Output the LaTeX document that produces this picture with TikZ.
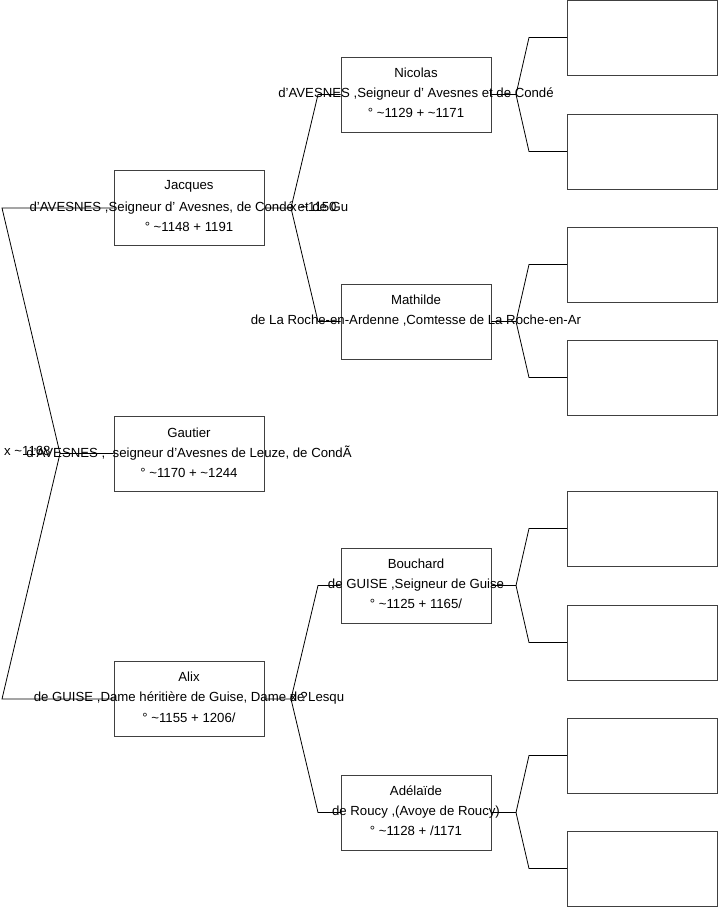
\documentclass[tikz,border=0pt]{standalone}
\usepackage{fontspec}
\setmainfont{Liberation Sans}
\newcommand{\tl}{\textasciitilde}
\begin{document}
\begin{tikzpicture}[x=1pt,y=-1pt]
\tikzset{
  pbox/.style={draw=black!75, line width=0.8pt, minimum width=150pt, minimum height=75pt, inner sep=0pt, fill=white},
  txt/.style={inner sep=0pt, font=\fontsize{13.2}{15}\selectfont, anchor=center},
  ltxt/.style={inner sep=0pt, font=\fontsize{13.2}{15}\selectfont, anchor=west},
  conn/.style={draw=black, line width=0.8pt}
}
\useasboundingbox (0,0) rectangle (719,908);
% level 1
\node[pbox] (jac) at (189,208) {};
\node[pbox] (gau) at (189,453.5) {};
\node[pbox] (ali) at (189,699) {};
% level 2
\node[pbox] (nic) at (416,94.5) {};
\node[pbox] (mat) at (416,321.5) {};
\node[pbox] (bou) at (416,585.5) {};
\node[pbox] (ade) at (416,812.5) {};
% level 3
\node[pbox] (a1) at (642.5,37.5) {};
\node[pbox] (a2) at (642.5,151.5) {};
\node[pbox] (a3) at (642.5,264.5) {};
\node[pbox] (a4) at (642.5,377.5) {};
\node[pbox] (a5) at (642.5,528.5) {};
\node[pbox] (a6) at (642.5,642.5) {};
\node[pbox] (a7) at (642.5,755.5) {};
\node[pbox] (a8) at (642.5,868.5) {};
% fork coordinates
\coordinate (r0) at (60,453.5);
\coordinate (r1) at (2,208);
\coordinate (r2) at (2,699);
\coordinate (j0) at (291,208);
\coordinate (j1) at (318,94.5);
\coordinate (j2) at (318,321.5);
\coordinate (x0) at (291,699);
\coordinate (x1) at (318,585.5);
\coordinate (x2) at (318,812.5);
\coordinate (n0) at (516,94.5);
\coordinate (n1) at (529,37.5);
\coordinate (n2) at (529,151.5);
\coordinate (m0) at (516,321.5);
\coordinate (m1) at (529,264.5);
\coordinate (m2) at (529,377.5);
\coordinate (b0) at (516,585.5);
\coordinate (b1) at (529,528.5);
\coordinate (b2) at (529,642.5);
\coordinate (d0) at (516,812.5);
\coordinate (d1) at (529,755.5);
\coordinate (d2) at (529,868.5);
% connectors
\draw[conn] (gau.west) -- (r0) -- (r1) -- (jac.west);
\draw[conn] (r0) -- (r2) -- (ali.west);
\draw[conn] (jac.east) -- (j0) -- (j1) -- (nic.west);
\draw[conn] (j0) -- (j2) -- (mat.west);
\draw[conn] (ali.east) -- (x0) -- (x1) -- (bou.west);
\draw[conn] (x0) -- (x2) -- (ade.west);
\draw[conn] (nic.east) -- (n0) -- (n1) -- (a1.west);
\draw[conn] (n0) -- (n2) -- (a2.west);
\draw[conn] (mat.east) -- (m0) -- (m1) -- (a3.west);
\draw[conn] (m0) -- (m2) -- (a4.west);
\draw[conn] (bou.east) -- (b0) -- (b1) -- (a5.west);
\draw[conn] (b0) -- (b2) -- (a6.west);
\draw[conn] (ade.east) -- (d0) -- (d1) -- (a7.west);
\draw[conn] (d0) -- (d2) -- (a8.west);
% texts
\node[txt] (jac1) at (189,186) {Jacques};
\node[txt] (jac2) at (189,208) {d'AVESNES ,Seigneur d' Avesnes, de Condé et de Gu};
\node[txt] (jac3) at (189,227) {° \tl1148 + 1191};
\node[txt] (gau1) at (189,433) {Gautier};
\node[txt] (gau2) at (189,453) {d'AVESNES ,\ \ seigneur d'Avesnes de Leuze, de CondÃ};
\node[txt] (gau3) at (189,473) {° \tl1170 + \tl1244};
\node[txt] (ali1) at (189,677) {Alix};
\node[txt] (ali2) at (189,698) {de GUISE ,Dame héritière de Guise, Dame de Lesqu};
\node[txt] (ali3) at (189,718) {° \tl1155 + 1206/};
\node[txt] (nic1) at (416,73) {Nicolas};
\node[txt] (nic2) at (416,94) {d'AVESNES ,Seigneur d' Avesnes et de Condé};
\node[txt] (nic3) at (416,113) {° \tl1129 + \tl1171};
\node[txt] (mat1) at (416,300) {Mathilde};
\node[txt] (mat2) at (416,321) {de La Roche-en-Ardenne ,Comtesse de La Roche-en-Ar};
\node[txt] (bou1) at (416,564) {Bouchard};
\node[txt] (bou2) at (416,585) {de GUISE ,Seigneur de Guise};
\node[txt] (bou3) at (416,604) {° \tl1125 + 1165/};
\node[txt] (ade1) at (416,791) {Adélaïde};
\node[txt] (ade2) at (416,812) {de Roucy ,(Avoye de Roucy)};
\node[txt] (ade3) at (416,831) {° \tl1128 + /1171};
% marriage labels
\node[ltxt] (mr0) at (4,451) {x \tl1168};
\node[ltxt] (mr1) at (290,207) {x \tl1150};
\node[ltxt] (mr2) at (290,697) {x ?};
\end{tikzpicture}
\end{document}
